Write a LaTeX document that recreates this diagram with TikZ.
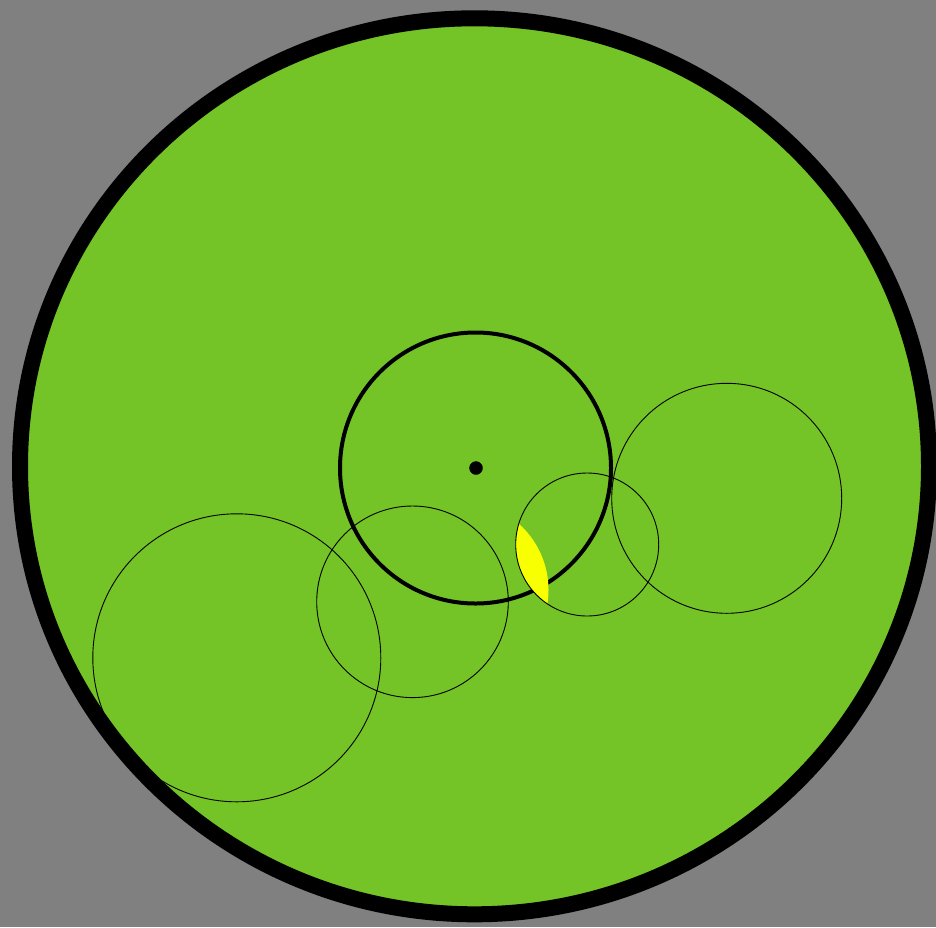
\documentclass[tikz,border=0pt]{standalone}
\usepackage{xcolor}
\usepackage{tikz}
\definecolor{pagegray}{HTML}{808080}
\definecolor{lawn}{HTML}{74C427}
\definecolor{lemon}{HTML}{F7FF00}
\tikzset{
  rim/.style={draw=black, line width=16pt},
  hub/.style={draw=black, line width=4pt},
  ring/.style={draw=black, line width=0.9pt},
}

\begin{document}
\begin{tikzpicture}[x=1pt,y=-1pt]
  \useasboundingbox (0,0) rectangle (936,927);
  \fill[pagegray] (0,0) rectangle (936,927);

  % green disc
  \fill[lawn] (474.5,466.3) ellipse (454.5 and 448);

  % thick middle circle
  \draw[hub] (475.5,468) circle (135.5);

  % yellow lens
  \begin{scope}
    \clip (587.2,544.5) circle (71.5);
    \fill[lemon] (459.7,590) circle (88.8);
  \end{scope}

  % thin circles
  \draw[ring] (236.8,657.8) circle (144);
  \draw[ring] (412.5,601.8) circle (95.8);
  \draw[ring] (587.2,544.5) circle (71.5);
  \draw[ring] (726.7,498.3) circle (115);

  % rim on top
  \draw[rim] (474.5,466.3) ellipse (454.5 and 448);

  % centre dot
  \filldraw[black] (476,468) circle (6.5);
\end{tikzpicture}
\end{document}
